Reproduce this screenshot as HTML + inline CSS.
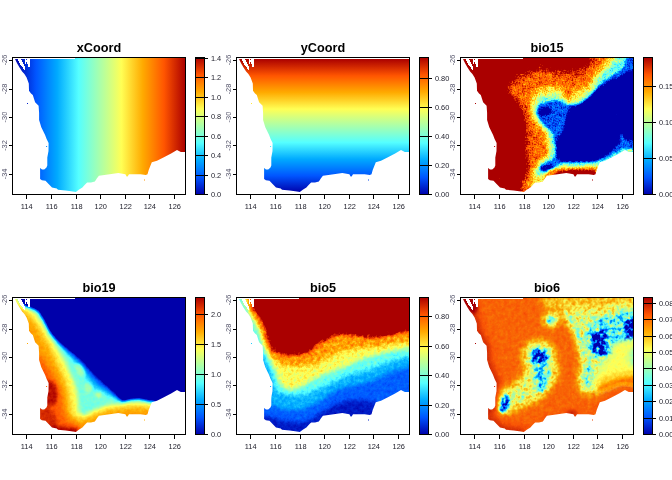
<!DOCTYPE html>
<html lang="en"><head><meta charset="utf-8"><title>GDM transformed predictors</title>
<style>
html,body{margin:0;padding:0;background:#fff;}
body{width:672px;height:480px;overflow:hidden;}
svg{display:block;font-family:"Liberation Sans",sans-serif;}
.ax{font-size:7.4px;fill:#1c1c28;}
.ay{fill:#54546a;}
.tt{font-size:12.7px;font-weight:bold;fill:#000;text-anchor:middle;}
.ln{stroke:#000;stroke-width:1;fill:none;shape-rendering:crispEdges;}
</style></head>
<body>
<svg width="672" height="480" viewBox="0 0 672 480">
<defs>
<clipPath id="land"><polygon shape-rendering="crispEdges" points="15,59 15,58 185.5,58 185.5,151.9 180.8,151.9 177,150.1 171.1,153.4 164.4,157.1 157,160.8 151.8,162.3 150.3,166 148.8,169.8 147.5,174.2 145.8,175 140.6,174.2 131.7,174.2 129,174.3 127.6,176.5 126.6,176.5 125.4,174.2 118.3,173 107.9,174.5 98.9,175.7 96.8,178.6 94.9,181.4 91,182.4 87.1,182.6 84.6,185 82.4,187.4 78.8,189.8 75.8,192.1 72.9,191.5 65.7,190.4 58,189.8 56.8,188.6 52,187.4 48.6,184 45.5,180.8 41.9,180.2 40.1,179 40.1,168.1 42,169.6 44.2,169.4 46.3,167.8 47.3,165.4 47.3,157.4 48.5,151 48.6,143 46.6,139 45.1,135 41.3,127.2 39.1,120 39.1,112.9 38.6,105.7 35.1,102.2 32.8,95 31,93.5 29,90.8 28.8,83.6 26.6,77.4 24.4,74 22.1,71.4 19.5,67.6 17.2,63.5"/></clipPath>
<linearGradient id="gv" x1="0" y1="1" x2="0" y2="0"><stop offset="0" stop-color="#0000aa"/><stop offset="0.0625" stop-color="#002ad4"/><stop offset="0.125" stop-color="#0055ff"/><stop offset="0.1875" stop-color="#0080ff"/><stop offset="0.25" stop-color="#00aaff"/><stop offset="0.3125" stop-color="#2ad4ff"/><stop offset="0.375" stop-color="#55ffff"/><stop offset="0.4375" stop-color="#80ffd4"/><stop offset="0.5" stop-color="#aaffaa"/><stop offset="0.5625" stop-color="#d4ff80"/><stop offset="0.625" stop-color="#ffff55"/><stop offset="0.6875" stop-color="#ffd42a"/><stop offset="0.75" stop-color="#ffaa00"/><stop offset="0.8125" stop-color="#ff8000"/><stop offset="0.875" stop-color="#ff5500"/><stop offset="0.9375" stop-color="#d42a00"/><stop offset="1" stop-color="#aa0000"/></linearGradient>
<linearGradient id="gh" x1="0" y1="0" x2="1" y2="0"><stop offset="0" stop-color="#0000aa"/><stop offset="0.0625" stop-color="#002ad4"/><stop offset="0.125" stop-color="#0055ff"/><stop offset="0.1875" stop-color="#0080ff"/><stop offset="0.25" stop-color="#00aaff"/><stop offset="0.3125" stop-color="#2ad4ff"/><stop offset="0.375" stop-color="#55ffff"/><stop offset="0.4375" stop-color="#80ffd4"/><stop offset="0.5" stop-color="#aaffaa"/><stop offset="0.5625" stop-color="#d4ff80"/><stop offset="0.625" stop-color="#ffff55"/><stop offset="0.6875" stop-color="#ffd42a"/><stop offset="0.75" stop-color="#ffaa00"/><stop offset="0.8125" stop-color="#ff8000"/><stop offset="0.875" stop-color="#ff5500"/><stop offset="0.9375" stop-color="#d42a00"/><stop offset="1" stop-color="#aa0000"/></linearGradient>
<filter id="b6" x="-20" y="30" width="240" height="200" filterUnits="userSpaceOnUse" color-interpolation-filters="sRGB"><feGaussianBlur stdDeviation="0.6"/></filter>
<filter id="b8" x="-20" y="30" width="240" height="200" filterUnits="userSpaceOnUse" color-interpolation-filters="sRGB"><feGaussianBlur stdDeviation="0.8"/></filter>
<filter id="b10" x="-20" y="30" width="240" height="200" filterUnits="userSpaceOnUse" color-interpolation-filters="sRGB"><feGaussianBlur stdDeviation="1"/></filter>
<filter id="b12" x="-20" y="30" width="240" height="200" filterUnits="userSpaceOnUse" color-interpolation-filters="sRGB"><feGaussianBlur stdDeviation="1.2"/></filter>
<filter id="b14" x="-20" y="30" width="240" height="200" filterUnits="userSpaceOnUse" color-interpolation-filters="sRGB"><feGaussianBlur stdDeviation="1.4"/></filter>
<filter id="b16" x="-20" y="30" width="240" height="200" filterUnits="userSpaceOnUse" color-interpolation-filters="sRGB"><feGaussianBlur stdDeviation="1.6"/></filter>
<filter id="b20" x="-20" y="30" width="240" height="200" filterUnits="userSpaceOnUse" color-interpolation-filters="sRGB"><feGaussianBlur stdDeviation="2"/></filter>
<filter id="b25" x="-20" y="30" width="240" height="200" filterUnits="userSpaceOnUse" color-interpolation-filters="sRGB"><feGaussianBlur stdDeviation="2.5"/></filter>
<filter id="b30" x="-20" y="30" width="240" height="200" filterUnits="userSpaceOnUse" color-interpolation-filters="sRGB"><feGaussianBlur stdDeviation="3"/></filter>
<filter id="b40" x="-20" y="30" width="240" height="200" filterUnits="userSpaceOnUse" color-interpolation-filters="sRGB"><feGaussianBlur stdDeviation="4"/></filter>
<filter id="v15" x="0" y="45" width="190" height="160" filterUnits="userSpaceOnUse" color-interpolation-filters="sRGB"><feGaussianBlur stdDeviation="1" result="b"/><feTurbulence type="fractalNoise" baseFrequency="0.7" numOctaves="1" seed="3" result="t0"/><feColorMatrix in="t0" type="matrix" values="1 0 0 0 0 1 0 0 0 0 1 0 0 0 0 0 0 0 0 1" result="g0"/><feComposite in="b" in2="g0" operator="arithmetic" k1="0" k2="1" k3="0.24" k4="-0.12" result="n0"/><feTurbulence type="fractalNoise" baseFrequency="0.22" numOctaves="2" seed="8" result="t1"/><feColorMatrix in="t1" type="matrix" values="1 0 0 0 0 1 0 0 0 0 1 0 0 0 0 0 0 0 0 1" result="g1"/><feComposite in="n0" in2="g1" operator="arithmetic" k1="0" k2="1" k3="0.1667" k4="-0.0833" result="n1"/><feComponentTransfer in="n1"><feFuncR type="table" tableValues="0 0 0 0 0 0.3333 0.6667 1 1 1 0.6667 0.6667 0.6667"/><feFuncG type="table" tableValues="0 0 0 0.3333 0.6667 1 1 1 0.6667 0.3333 0 0 0"/><feFuncB type="table" tableValues="0.6667 0.6667 0.6667 1 1 1 0.6667 0.3333 0 0 0 0 0"/></feComponentTransfer></filter>
<filter id="v19" x="0" y="45" width="190" height="160" filterUnits="userSpaceOnUse" color-interpolation-filters="sRGB"><feGaussianBlur stdDeviation="0.8" result="b"/><feTurbulence type="fractalNoise" baseFrequency="0.3" numOctaves="2" seed="5" result="t0"/><feColorMatrix in="t0" type="matrix" values="1 0 0 0 0 1 0 0 0 0 1 0 0 0 0 0 0 0 0 1" result="g0"/><feComposite in="b" in2="g0" operator="arithmetic" k1="0" k2="1" k3="0.0467" k4="-0.0233" result="n0"/><feComponentTransfer in="n0"><feFuncR type="table" tableValues="0 0 0 0 0 0.3333 0.6667 1 1 1 0.6667 0.6667 0.6667"/><feFuncG type="table" tableValues="0 0 0 0.3333 0.6667 1 1 1 0.6667 0.3333 0 0 0"/><feFuncB type="table" tableValues="0.6667 0.6667 0.6667 1 1 1 0.6667 0.3333 0 0 0 0 0"/></feComponentTransfer></filter>
<filter id="v5" x="0" y="45" width="190" height="160" filterUnits="userSpaceOnUse" color-interpolation-filters="sRGB"><feGaussianBlur stdDeviation="2" result="b"/><feTurbulence type="fractalNoise" baseFrequency="0.3" numOctaves="3" seed="2" result="t0"/><feColorMatrix in="t0" type="matrix" values="1 0 0 0 0 1 0 0 0 0 1 0 0 0 0 0 0 0 0 1" result="g0"/><feColorMatrix in="t0" type="matrix" values="-1 0 0 0 1 -1 0 0 0 1 -1 0 0 0 1 0 0 0 0 1" result="u0"/><feComposite in="b" in2="u0" operator="arithmetic" k1="0.25" k2="0.875" k3="-0" k4="0" result="n0"/><feComponentTransfer in="n0"><feFuncR type="table" tableValues="0 0 0 0 0 0.3333 0.6667 1 1 1 0.6667 0.6667 0.6667"/><feFuncG type="table" tableValues="0 0 0 0.3333 0.6667 1 1 1 0.6667 0.3333 0 0 0"/><feFuncB type="table" tableValues="0.6667 0.6667 0.6667 1 1 1 0.6667 0.3333 0 0 0 0 0"/></feComponentTransfer></filter>
<filter id="v6s" x="0" y="45" width="190" height="160" filterUnits="userSpaceOnUse" color-interpolation-filters="sRGB"><feGaussianBlur stdDeviation="0.6" result="b"/><feTurbulence type="fractalNoise" baseFrequency="0.3" numOctaves="2" seed="9" result="t0"/><feColorMatrix in="t0" type="matrix" values="1 0 0 0 0 1 0 0 0 0 1 0 0 0 0 0 0 0 0 1" result="g0"/><feComposite in="b" in2="g0" operator="arithmetic" k1="0" k2="1" k3="0.0533" k4="-0.0267" result="n0"/><feComponentTransfer in="n0"><feFuncR type="table" tableValues="0 0 0 0 0 0.3333 0.6667 1 1 1 0.6667 0.6667 0.6667"/><feFuncG type="table" tableValues="0 0 0 0.3333 0.6667 1 1 1 0.6667 0.3333 0 0 0"/><feFuncB type="table" tableValues="0.6667 0.6667 0.6667 1 1 1 0.6667 0.3333 0 0 0 0 0"/></feComponentTransfer></filter>
<filter id="v6" x="0" y="45" width="190" height="160" filterUnits="userSpaceOnUse" color-interpolation-filters="sRGB"><feGaussianBlur stdDeviation="0.8" result="b"/><feTurbulence type="fractalNoise" baseFrequency="0.25" numOctaves="3" seed="4" result="t0"/><feColorMatrix in="t0" type="matrix" values="1 0 0 0 0 1 0 0 0 0 1 0 0 0 0 0 0 0 0 1" result="g0"/><feColorMatrix in="t0" type="matrix" values="-1 0 0 0 1 -1 0 0 0 1 -1 0 0 0 1 0 0 0 0 1" result="u0"/><feComposite in="b" in2="u0" operator="arithmetic" k1="1.5" k2="0.25" k3="-1.155" k4="0.5775" result="n0"/><feComponentTransfer in="n0"><feFuncR type="table" tableValues="0 0 0 0 0 0.3333 0.6667 1 1 1 0.6667 0.6667 0.6667"/><feFuncG type="table" tableValues="0 0 0 0.3333 0.6667 1 1 1 0.6667 0.3333 0 0 0"/><feFuncB type="table" tableValues="0.6667 0.6667 0.6667 1 1 1 0.6667 0.3333 0 0 0 0 0"/></feComponentTransfer></filter>
</defs>
<rect width="672" height="480" fill="#fff"/>
<g transform="translate(0,0)">
<g clip-path="url(#land)">
<g>
<rect x="14.5" y="50" width="171" height="160" fill="url(#gh)"/>
<rect x="0" y="50" width="15" height="160" fill="#0000aa"/>
</g>
</g>
<polygon shape-rendering="crispEdges" points="17.4,58.5 21.1,58.5 22.9,63.5 25.5,67.2 25.1,69.3 24.2,70 22.5,67.4 19.5,63.5" fill="#fff"/>
<polygon shape-rendering="crispEdges" points="24.4,58.5 25.9,58.5 26.1,60.3 27.4,60.3 26.5,61.6 26.4,63.5 25.9,64.3 25.5,63.5 24.8,61.6" fill="#fff"/>
<polygon shape-rendering="crispEdges" points="27.4,58.5 30,58.5 30,66.9 28.2,66.9 27.5,64" fill="#fff"/>
<rect x="13" y="58" width="62" height="1" fill="#fff"/>
<rect x="27" y="103" width="1" height="1" fill="#0022cc"/>
<rect x="46.1" y="146" width="1" height="1" fill="#0088ff"/>
<rect x="144" y="179.5" width="1" height="1" fill="#ff9600"/>
<rect class="ln" x="12.5" y="57.5" width="173" height="137"/>
<path class="ln" d="M26.5,194.5v4.5M51.5,194.5v4.5M76.5,194.5v4.5M100.5,194.5v4.5M125.5,194.5v4.5M149.5,194.5v4.5M174.5,194.5v4.5M9,60.5h3.5M9,89.5h3.5M9,117.5h3.5M9,145.5h3.5M9,174.5h3.5"/>
<text class="ax" x="26.7" y="209.3" text-anchor="middle">114</text>
<text class="ax" x="51.7" y="209.3" text-anchor="middle">116</text>
<text class="ax" x="76.7" y="209.3" text-anchor="middle">118</text>
<text class="ax" x="100.7" y="209.3" text-anchor="middle">120</text>
<text class="ax" x="125.7" y="209.3" text-anchor="middle">122</text>
<text class="ax" x="149.8" y="209.3" text-anchor="middle">124</text>
<text class="ax" x="174.7" y="209.3" text-anchor="middle">126</text>
<text class="ax ay" transform="translate(7.3,60) rotate(-90)" text-anchor="middle">-26</text>
<text class="ax ay" transform="translate(7.3,89) rotate(-90)" text-anchor="middle">-28</text>
<text class="ax ay" transform="translate(7.3,117.1) rotate(-90)" text-anchor="middle">-30</text>
<text class="ax ay" transform="translate(7.3,145.5) rotate(-90)" text-anchor="middle">-32</text>
<text class="ax ay" transform="translate(7.3,173.9) rotate(-90)" text-anchor="middle">-34</text>
<text class="tt" transform="translate(99,51.9) scale(1,1.07)">xCoord</text>
<rect x="195.5" y="57.5" width="9" height="137" fill="url(#gv)"/>
<rect class="ln" x="195.5" y="57.5" width="9" height="137"/>
<text class="ax" x="210.9" y="197.4">0.0</text>
<text class="ax" x="210.9" y="178.4">0.2</text>
<text class="ax" x="210.9" y="158.4">0.4</text>
<text class="ax" x="210.9" y="139.4">0.6</text>
<text class="ax" x="210.9" y="119.4">0.8</text>
<text class="ax" x="210.9" y="100.4">1.0</text>
<text class="ax" x="210.9" y="80.4">1.2</text>
<text class="ax" x="210.9" y="61.4">1.4</text>
<path class="ln" d="M195.5,194.5h12.5M195.5,175.5h12.5M195.5,155.5h12.5M195.5,136.5h12.5M195.5,116.5h12.5M195.5,97.5h12.5M195.5,77.5h12.5M195.5,58.5h12.5"/>
</g>
<g transform="translate(224,0)">
<g clip-path="url(#land)">
<g>
<rect x="0" y="59" width="200" height="133.5" fill="url(#gv)"/>
</g>
</g>
<polygon shape-rendering="crispEdges" points="17.4,58.5 21.1,58.5 22.9,63.5 25.5,67.2 25.1,69.3 24.2,70 22.5,67.4 19.5,63.5" fill="#fff"/>
<polygon shape-rendering="crispEdges" points="24.4,58.5 25.9,58.5 26.1,60.3 27.4,60.3 26.5,61.6 26.4,63.5 25.9,64.3 25.5,63.5 24.8,61.6" fill="#fff"/>
<polygon shape-rendering="crispEdges" points="27.4,58.5 30,58.5 30,66.9 28.2,66.9 27.5,64" fill="#fff"/>
<rect x="13" y="58" width="62" height="1" fill="#fff"/>
<rect x="27" y="103" width="1" height="1" fill="#ffe73d"/>
<rect x="46.1" y="146" width="1" height="1" fill="#3de7ff"/>
<rect x="144" y="179.5" width="1" height="1" fill="#0044ee"/>
<rect class="ln" x="12.5" y="57.5" width="173" height="137"/>
<path class="ln" d="M26.5,194.5v4.5M51.5,194.5v4.5M76.5,194.5v4.5M100.5,194.5v4.5M125.5,194.5v4.5M149.5,194.5v4.5M174.5,194.5v4.5M9,60.5h3.5M9,89.5h3.5M9,117.5h3.5M9,145.5h3.5M9,174.5h3.5"/>
<text class="ax" x="26.7" y="209.3" text-anchor="middle">114</text>
<text class="ax" x="51.7" y="209.3" text-anchor="middle">116</text>
<text class="ax" x="76.7" y="209.3" text-anchor="middle">118</text>
<text class="ax" x="100.7" y="209.3" text-anchor="middle">120</text>
<text class="ax" x="125.7" y="209.3" text-anchor="middle">122</text>
<text class="ax" x="149.8" y="209.3" text-anchor="middle">124</text>
<text class="ax" x="174.7" y="209.3" text-anchor="middle">126</text>
<text class="ax ay" transform="translate(7.3,60) rotate(-90)" text-anchor="middle">-26</text>
<text class="ax ay" transform="translate(7.3,89) rotate(-90)" text-anchor="middle">-28</text>
<text class="ax ay" transform="translate(7.3,117.1) rotate(-90)" text-anchor="middle">-30</text>
<text class="ax ay" transform="translate(7.3,145.5) rotate(-90)" text-anchor="middle">-32</text>
<text class="ax ay" transform="translate(7.3,173.9) rotate(-90)" text-anchor="middle">-34</text>
<text class="tt" transform="translate(99,51.9) scale(1,1.07)">yCoord</text>
<rect x="195.5" y="57.5" width="9" height="137" fill="url(#gv)"/>
<rect class="ln" x="195.5" y="57.5" width="9" height="137"/>
<text class="ax" x="210.9" y="197.4">0.00</text>
<text class="ax" x="210.9" y="168.4">0.20</text>
<text class="ax" x="210.9" y="139.4">0.40</text>
<text class="ax" x="210.9" y="110.4">0.60</text>
<text class="ax" x="210.9" y="81.4">0.80</text>
<path class="ln" d="M195.5,194.5h12.5M195.5,165.5h12.5M195.5,136.5h12.5M195.5,107.5h12.5M195.5,78.5h12.5"/>
</g>
<g transform="translate(448,0)">
<g clip-path="url(#land)">
<g filter="url(#v15)">
<polygon points="-10,40 200,40 200,210 -10,210" fill="#eeeeee"/>
<g filter="url(#b20)"><polygon points="142,50 200,50 200,210 70,210 73,183 76.7,176.7 78,166.7 76.7,153 76,146 77.5,134 76,121 72.5,109 64,97.5 58,92 57.5,86.7 65,78 80,70 90,66 100,68 115,70 130,69 140,64" fill="#cacaca"/><polygon points="150,50 200,50 200,210 77,210 79,180 82,167 81,153 81,140 81,130 80,121 77,110 70,100 64,93 64,87 71,81 84,76 95,73 115,76 132,75 145,66" fill="#bbbbbb"/><polygon points="165,50 200,50 200,210 82,210 83,177 85,170 90,162 99,153 98.8,143.8 96,133.8 88.8,125 83,115 82.5,102.5 85,92 92,88 103,86 113,86 117,94 121,102 124,95 127,89 132,88 140,85 145,75 155,65" fill="#9b9b9b"/><polygon points="175,50 200,50 200,210 152,210 152,163 148,164.5 135,165.5 120,166 105,166.5 98,172 93,177 89,175 88,170 93,163 103,156.7 103,150 102.5,142.5 100,131 92.5,123.8 86,115 87,105 91,97.5 100,96 110,95 116,98.8 120,104.5 125,104 132.5,98.8 144,91 148.7,80 160,68" fill="#6e6e6e"/><ellipse cx="77" cy="183" rx="3.5" ry="3" fill="#afafaf"/></g>
<g filter="url(#b6)"><polygon points="182,50 200,50 200,150.5 185,150.5 180.5,150 177,148.3 171,151.6 164.4,155.3 157,159 152,160.6 148.7,162 132,162.7 115,162.5 109,165 106,170 100,172.5 94,171.5 91.5,168 94,164.5 101,161.5 107,158 109,153 107,142 105,133 97,126 91,118.5 88.5,111 91,105 97.5,102.5 110,100.5 117.5,104.5 130,104.5 137.5,99.5 145,95.5 150,86 162,77 175,69" fill="#3f3f3f"/><polygon points="200,64 185.5,69 175,75.5 162,81 148.7,89.5 138.7,99.5 130,105.5 124,107 120,111 117.5,122.5 115,132.5 109,140 108,150 108.7,158 115,161 132,161.7 148.7,160.5 155,157 162,151.5 168,146 172,141 170.5,136.5 172.5,132.5 176,137 181,140 185,140.5 200,141" fill="#111111"/><ellipse cx="96.5" cy="111.5" rx="6.5" ry="4.5" fill="#1d1d1d"/><ellipse cx="99" cy="168.3" rx="6" ry="3.2" fill="#1d1d1d"/><polyline points="153,161.5 157,160 164.4,156.3 171.1,152.6 177,149.3 180.8,151 185.5,151" fill="none" stroke="#696969" stroke-width="3.6" stroke-linecap="round" stroke-linejoin="round"/><ellipse cx="181.5" cy="150.3" rx="2.5" ry="1.6" fill="#9b9b9b"/><polygon points="97,175 101,169.5 110,168 130,167.5 147,167 150,166 151,180 95,182" fill="#afafaf"/><polygon points="106,176 110,171.5 125,170.5 140,170.5 147,170 149,180 105,180" fill="#eeeeee"/></g>
</g>
</g>
<polygon shape-rendering="crispEdges" points="17.4,58.5 21.1,58.5 22.9,63.5 25.5,67.2 25.1,69.3 24.2,70 22.5,67.4 19.5,63.5" fill="#fff"/>
<polygon shape-rendering="crispEdges" points="24.4,58.5 25.9,58.5 26.1,60.3 27.4,60.3 26.5,61.6 26.4,63.5 25.9,64.3 25.5,63.5 24.8,61.6" fill="#fff"/>
<polygon shape-rendering="crispEdges" points="27.4,58.5 30,58.5 30,66.9 28.2,66.9 27.5,64" fill="#fff"/>
<rect x="13" y="58" width="62" height="1" fill="#fff"/>
<rect x="27" y="103" width="1" height="1" fill="#aa0000"/>
<rect x="46.1" y="146" width="1" height="1" fill="#aa0000"/>
<rect x="144" y="179.5" width="1" height="1" fill="#aa0000"/>
<rect class="ln" x="12.5" y="57.5" width="173" height="137"/>
<path class="ln" d="M26.5,194.5v4.5M51.5,194.5v4.5M76.5,194.5v4.5M100.5,194.5v4.5M125.5,194.5v4.5M149.5,194.5v4.5M174.5,194.5v4.5M9,60.5h3.5M9,89.5h3.5M9,117.5h3.5M9,145.5h3.5M9,174.5h3.5"/>
<text class="ax" x="26.7" y="209.3" text-anchor="middle">114</text>
<text class="ax" x="51.7" y="209.3" text-anchor="middle">116</text>
<text class="ax" x="76.7" y="209.3" text-anchor="middle">118</text>
<text class="ax" x="100.7" y="209.3" text-anchor="middle">120</text>
<text class="ax" x="125.7" y="209.3" text-anchor="middle">122</text>
<text class="ax" x="149.8" y="209.3" text-anchor="middle">124</text>
<text class="ax" x="174.7" y="209.3" text-anchor="middle">126</text>
<text class="ax ay" transform="translate(7.3,60) rotate(-90)" text-anchor="middle">-26</text>
<text class="ax ay" transform="translate(7.3,89) rotate(-90)" text-anchor="middle">-28</text>
<text class="ax ay" transform="translate(7.3,117.1) rotate(-90)" text-anchor="middle">-30</text>
<text class="ax ay" transform="translate(7.3,145.5) rotate(-90)" text-anchor="middle">-32</text>
<text class="ax ay" transform="translate(7.3,173.9) rotate(-90)" text-anchor="middle">-34</text>
<text class="tt" transform="translate(99,51.9) scale(1,1.07)">bio15</text>
<rect x="195.5" y="57.5" width="9" height="137" fill="url(#gv)"/>
<rect class="ln" x="195.5" y="57.5" width="9" height="137"/>
<text class="ax" x="210.9" y="197.4">0.00</text>
<text class="ax" x="210.9" y="161.4">0.05</text>
<text class="ax" x="210.9" y="125.4">0.10</text>
<text class="ax" x="210.9" y="89.4">0.15</text>
<path class="ln" d="M195.5,194.5h12.5M195.5,158.5h12.5M195.5,122.5h12.5M195.5,86.5h12.5"/>
</g>
<g transform="translate(0,240)">
<g clip-path="url(#land)">
<g filter="url(#v19)">
<polygon points="-10,40 200,40 200,210 -10,210" fill="#111111"/>
<g filter="url(#b12)"><polygon points="17.5,49.4 20.5,57.3 23.8,63.1 26.1,66 30.4,65.5 39.8,70.1 45.2,79.3 51.3,91.6 58.6,99.3 69.8,108.8 82.3,118.8 92.4,130.2 101.1,138.8 109.8,146.3 118.6,154.9 123.4,160.5 129.7,157.9 138.8,156.9 150.3,159.4 156.1,159.9 156,210 -10,210 -10,50" fill="#2a2a2a"/><polygon points="15.7,50.1 18.7,58.1 22.3,64.2 25.4,67.8 29.9,67.3 38.5,71.5 43.5,80.1 49.8,92.7 57.3,100.7 68.6,110.2 81,120.2 91,131.5 99.8,140.2 108.5,147.7 117.3,156.2 122.9,162.3 130.1,159.8 138.7,158.8 149.9,161.3 156,161.8 156,210 -10,210 -10,50" fill="#3f3f3f"/><polygon points="15.5,50.2 18.6,58.2 22.2,64.2 25.4,67.7 29.8,67.5 38.3,71.7 43.3,80.2 49.6,92.8 57,101 67.9,111.1 79.7,121.7 89.1,133.2 97.5,142.7 107,149.4 116.6,156.9 122.9,162.4 130.1,160 138.7,159.1 149.9,161.5 156,162.1 156,210 -10,210 -10,50" fill="#525252"/><polygon points="15,50.4 18.1,58.4 21.8,64.5 25.3,68 29.7,68.1 37.9,72.2 42.8,80.5 49.2,93 56.5,101.6 67,112.1 78.1,123.3 87,135.2 95,145.3 105.3,151.2 115.7,157.8 122.8,162.7 130.2,160.6 138.6,159.8 149.8,162.1 155.9,162.6 156,210 -10,210 -10,50" fill="#616161"/><polygon points="14.5,50.6 17.6,58.6 21.4,64.7 25.2,68.3 29.5,68.7 37.4,72.7 42.3,80.8 48.8,93.3 56,102.2 66,113.3 76.3,125.2 84.6,137.5 92.2,148.4 103.4,153.4 114.6,158.8 122.7,163.2 130.4,161.2 138.5,160.5 149.7,162.7 155.9,163.2 156,210 -10,210 -10,50" fill="#727272"/><ellipse cx="80" cy="130" rx="3.5" ry="7" fill="#808080" transform="rotate(-30 80 130)"/><ellipse cx="88" cy="148" rx="4" ry="5" fill="#808080"/></g>
<g filter="url(#b14)"><polygon points="14.1,49.2 17,57.1 20.3,62.7 23.8,66.7 27.9,68 36.5,72.1 42.9,81.4 49.4,93.9 54.8,101.8 60.4,110.9 66,120 70,130.1 75.6,141.7 78.2,152.1 79.2,159.8 80,171.1 83.8,174.3 96.1,168 108.6,163.4 121.8,162.8 129.8,161.3 140.2,160.8 150.3,162.8 156.2,163.3 156,210 -10,210 -10,50" fill="#838383"/><ellipse cx="98.7" cy="155" rx="2.6" ry="2.6" fill="#909090"/><polygon points="12,50 15,58 18.5,64 22.5,68.5 27,70 35,73.8 41,82.5 47.5,95 53,103 58.5,112 64,121 68,131 73.5,142.5 76,152.5 77,160 78,172 84,176.5 97,170 109,165.6 122,165 130,163.5 140,163 150,165 156,165.5 156,210 -10,210 -10,50" fill="#969696"/></g>
<g filter="url(#b25)"><polygon points="9.3,49.3 13.3,57.3 17.2,63.1 21,67.9 26,70.9 31.2,76.6 38.8,86.7 45,98 51.3,108.3 57.9,123.4 64.4,136.9 68.5,149.6 70.5,161.8 71.3,174.2 81,179.5 93.4,174.1 99.5,171.6 109.7,168.5 121.8,167 135,165.5 150.1,167 156.1,167.5 156,210 -10,210 -10,50" fill="#a2a2a2"/><polygon points="7.1,50.4 11.1,58.5 15.2,64.6 19.3,69.7 24.4,72.8 29.2,78.1 36.7,88 42.9,99.3 49.1,109.5 55.6,124.4 62.1,137.9 66,150.2 68,162.1 69.2,175.5 81,182 94.4,176.4 100.3,173.9 110.2,171 122.1,169.5 135,168 149.9,169.5 155.9,170 156,210 -10,210 -10,50" fill="#acacac"/><polygon points="41.8,114.8 47,121 52.8,129.4 58.5,139.9 63.4,151.8 65.4,166.9 68.9,177.9 79.4,183.8 89.9,196.9 20,210 20,106" fill="#b4b4b4"/><polygon points="38.4,117.7 43.4,123.7 48.9,131.7 54.5,141.8 59,152.9 61,167.9 65.4,180.7 76.3,187.1 86.4,199.7 20,210 20,118" fill="#bebebe"/></g>
<g filter="url(#b16)"><polygon points="44,140 52,141 56.5,146 58,156 56,163 52,166 44,166" fill="#d1d1d1"/><polygon points="38,166 50,168 56,176 58,186 50,186 38,182" fill="#cacaca"/><polygon points="48,184.5 60,186.5 70,187.5 77,187 80,200 46,200" fill="#d4d4d4"/></g>
</g>
</g>
<polygon shape-rendering="crispEdges" points="17.4,58.5 21.1,58.5 22.9,63.5 25.5,67.2 25.1,69.3 24.2,70 22.5,67.4 19.5,63.5" fill="#fff"/>
<polygon shape-rendering="crispEdges" points="24.4,58.5 25.9,58.5 26.1,60.3 27.4,60.3 26.5,61.6 26.4,63.5 25.9,64.3 25.5,63.5 24.8,61.6" fill="#fff"/>
<polygon shape-rendering="crispEdges" points="27.4,58.5 30,58.5 30,66.9 28.2,66.9 27.5,64" fill="#fff"/>
<rect x="13" y="58" width="62" height="1" fill="#fff"/>
<rect x="27" y="103" width="1" height="1" fill="#ffaa00"/>
<rect x="46.1" y="146" width="1" height="1" fill="#ff5f00"/>
<rect x="144" y="179.5" width="1" height="1" fill="#ffb107"/>
<rect class="ln" x="12.5" y="57.5" width="173" height="137"/>
<path class="ln" d="M26.5,194.5v4.5M51.5,194.5v4.5M76.5,194.5v4.5M100.5,194.5v4.5M125.5,194.5v4.5M149.5,194.5v4.5M174.5,194.5v4.5M9,60.5h3.5M9,89.5h3.5M9,117.5h3.5M9,145.5h3.5M9,174.5h3.5"/>
<text class="ax" x="26.7" y="209.3" text-anchor="middle">114</text>
<text class="ax" x="51.7" y="209.3" text-anchor="middle">116</text>
<text class="ax" x="76.7" y="209.3" text-anchor="middle">118</text>
<text class="ax" x="100.7" y="209.3" text-anchor="middle">120</text>
<text class="ax" x="125.7" y="209.3" text-anchor="middle">122</text>
<text class="ax" x="149.8" y="209.3" text-anchor="middle">124</text>
<text class="ax" x="174.7" y="209.3" text-anchor="middle">126</text>
<text class="ax ay" transform="translate(7.3,60) rotate(-90)" text-anchor="middle">-26</text>
<text class="ax ay" transform="translate(7.3,89) rotate(-90)" text-anchor="middle">-28</text>
<text class="ax ay" transform="translate(7.3,117.1) rotate(-90)" text-anchor="middle">-30</text>
<text class="ax ay" transform="translate(7.3,145.5) rotate(-90)" text-anchor="middle">-32</text>
<text class="ax ay" transform="translate(7.3,173.9) rotate(-90)" text-anchor="middle">-34</text>
<text class="tt" transform="translate(99,51.9) scale(1,1.07)">bio19</text>
<rect x="195.5" y="57.5" width="9" height="137" fill="url(#gv)"/>
<rect class="ln" x="195.5" y="57.5" width="9" height="137"/>
<text class="ax" x="210.9" y="197.4">0.0</text>
<text class="ax" x="210.9" y="167.4">0.5</text>
<text class="ax" x="210.9" y="137.4">1.0</text>
<text class="ax" x="210.9" y="107.4">1.5</text>
<text class="ax" x="210.9" y="77.4">2.0</text>
<path class="ln" d="M195.5,194.5h12.5M195.5,164.5h12.5M195.5,134.5h12.5M195.5,104.5h12.5M195.5,74.5h12.5"/>
</g>
<g transform="translate(224,240)">
<g clip-path="url(#land)">
<g filter="url(#v5)">
<polygon points="-10,40 200,40 200,210 -10,210" fill="#eeeeee"/>
<polygon points="-10,50 28,50 28.5,64 30,69 36.7,76.7 42.5,88 45,100 50,110 60,113 76.7,113 84,110.5 92,103 102.5,98 112,93.5 122,93 132,94.5 148.7,96.5 165,94 178.7,90.5 200,89 200,210 -10,210" fill="#c0c0c0"/>
<polygon points="-10,50 24.5,50 25.5,60 27,68 34,78 40,89 42.5,101 47,112 58,116.5 76.7,117 86,114 94,107 104,101 113,96 122,95.5 132,97 148.7,99 165,96.5 178.7,93 200,92 200,210 -10,210" fill="#acacac"/>
<polygon points="-10,50 19.5,50 22,60 25,69 31,80 37,90 40,102 45,114 52,122 60,126 75,127 88,125.5 95,123 108.7,115 123.7,110 140,108 157,106.7 173.7,103 200,101.7 200,210 -10,210" fill="#949494"/>
<polygon points="-10,50 16,50 19,60 23,70 28,80 33,88 37,100 41,110 46,120 51,130 56.7,145 65,150 76.7,147 88,140.5 100,134.5 115,129 128,123.5 138.7,119 157,113.7 173.7,110 200,107 200,210 -10,210" fill="#6e6e6e"/>
<polygon points="-10,110 38,112 43,122 48,135 51,146 53,152 65,155 80,155 96.7,148 112,141 125,134.5 140,131 150,128 160,123.5 172,119.5 200,113 200,210 -10,210" fill="#575757"/>
<polygon points="-10,153 40,155 46,163 53,167 60,169.5 76.7,170 93,163.5 105,155 115,149 130,145.5 148,141 160,135.5 172,130 200,124 200,210 -10,210" fill="#424242"/>
<polygon points="-10,174 43,176 60,181 76.7,182.5 88,179 98,172 112,164 125,160 140,160 152,162 152,210 -10,210" fill="#313131"/>
</g>
</g>
<polygon shape-rendering="crispEdges" points="17.4,58.5 21.1,58.5 22.9,63.5 25.5,67.2 25.1,69.3 24.2,70 22.5,67.4 19.5,63.5" fill="#fff"/>
<polygon shape-rendering="crispEdges" points="24.4,58.5 25.9,58.5 26.1,60.3 27.4,60.3 26.5,61.6 26.4,63.5 25.9,64.3 25.5,63.5 24.8,61.6" fill="#fff"/>
<polygon shape-rendering="crispEdges" points="27.4,58.5 30,58.5 30,66.9 28.2,66.9 27.5,64" fill="#fff"/>
<rect x="13" y="58" width="62" height="1" fill="#fff"/>
<rect x="27" y="103" width="1" height="1" fill="#22ccff"/>
<rect x="46.1" y="146" width="1" height="1" fill="#00aaff"/>
<rect x="144" y="179.5" width="1" height="1" fill="#0022cc"/>
<rect class="ln" x="12.5" y="57.5" width="173" height="137"/>
<path class="ln" d="M26.5,194.5v4.5M51.5,194.5v4.5M76.5,194.5v4.5M100.5,194.5v4.5M125.5,194.5v4.5M149.5,194.5v4.5M174.5,194.5v4.5M9,60.5h3.5M9,89.5h3.5M9,117.5h3.5M9,145.5h3.5M9,174.5h3.5"/>
<text class="ax" x="26.7" y="209.3" text-anchor="middle">114</text>
<text class="ax" x="51.7" y="209.3" text-anchor="middle">116</text>
<text class="ax" x="76.7" y="209.3" text-anchor="middle">118</text>
<text class="ax" x="100.7" y="209.3" text-anchor="middle">120</text>
<text class="ax" x="125.7" y="209.3" text-anchor="middle">122</text>
<text class="ax" x="149.8" y="209.3" text-anchor="middle">124</text>
<text class="ax" x="174.7" y="209.3" text-anchor="middle">126</text>
<text class="ax ay" transform="translate(7.3,60) rotate(-90)" text-anchor="middle">-26</text>
<text class="ax ay" transform="translate(7.3,89) rotate(-90)" text-anchor="middle">-28</text>
<text class="ax ay" transform="translate(7.3,117.1) rotate(-90)" text-anchor="middle">-30</text>
<text class="ax ay" transform="translate(7.3,145.5) rotate(-90)" text-anchor="middle">-32</text>
<text class="ax ay" transform="translate(7.3,173.9) rotate(-90)" text-anchor="middle">-34</text>
<text class="tt" transform="translate(99,51.9) scale(1,1.07)">bio5</text>
<rect x="195.5" y="57.5" width="9" height="137" fill="url(#gv)"/>
<rect class="ln" x="195.5" y="57.5" width="9" height="137"/>
<text class="ax" x="210.9" y="197.4">0.00</text>
<text class="ax" x="210.9" y="168.4">0.20</text>
<text class="ax" x="210.9" y="138.4">0.40</text>
<text class="ax" x="210.9" y="109.4">0.60</text>
<text class="ax" x="210.9" y="79.4">0.80</text>
<path class="ln" d="M195.5,194.5h12.5M195.5,165.5h12.5M195.5,135.5h12.5M195.5,106.5h12.5M195.5,76.5h12.5"/>
</g>
<g transform="translate(448,240)">
<g clip-path="url(#land)">
<g filter="url(#v6)">
<polygon points="-10,40 200,40 200,210 -10,210" fill="#bbbbbb"/>
<g filter="url(#b40)"><polyline points="15,59 17.2,63.5 19.5,67.6 22.1,71.4 24.4,74 26.6,77.4 28.8,83.6 29,90.8 32.8,95 35.1,102.2 38.6,105.7 39.1,112.9 39.1,120 41.3,127.2 45.1,135 48.6,143 48.5,151 47.3,157.4 47.3,165.4 44.2,169.4 40.1,168.1 40.1,179 45.5,180.8 52,187.4 58,189.8 65.7,190.4 75.8,192.1" fill="none" stroke="#c4c4c4" stroke-width="12" stroke-linecap="round" stroke-linejoin="round"/></g>
<g filter="url(#b20)"><polyline points="15,59 17.2,63.5 19.5,67.6 22.1,71.4 24.4,74 26.6,77.4 28.8,83.6 29,90.8 32.8,95 35.1,102.2 38.6,105.7 39.1,112.9 39.1,120 41.3,127.2 45.1,135 48.6,143 48.5,151 47.3,157.4 47.3,165.4 44.2,169.4 40.1,168.1 40.1,179 45.5,180.8 52,187.4 58,189.8 65.7,190.4 75.8,192.1" fill="none" stroke="#cccccc" stroke-width="4" stroke-linecap="round" stroke-linejoin="round"/><polyline points="75.8,192.1 82.4,187.4 87.1,182.6 94.9,181.4 98.9,175.7 107.9,174.5 118.3,173 131.7,174.2 145.8,175 148.8,169.8 151.8,162.3 164.4,157.1 177,150.1 185.5,151.9" fill="none" stroke="#c0c0c0" stroke-width="3" stroke-linecap="round" stroke-linejoin="round"/><ellipse cx="124" cy="173" rx="6" ry="2.5" fill="#d3d3d3"/><polygon points="10,50 27,50 27,62 30,70 24,72" fill="#e6e6e6"/></g>
<g filter="url(#b30)"><polygon points="92,50 200,50 200,76 118,76 104,70 94,64" fill="#a3a3a3"/><polygon points="113,71 140,69 157,70 168.7,64 200,62 200,138 172,140 160,145 148.7,154 133,153 130,140 132.5,125 132.5,118 129,105 125,91.7 118.7,83" fill="#8d8d8d"/><polygon points="148.7,154 160,146 172,141 200,139 200,132 172,133 158,138 148,146" fill="#a7a7a7"/><ellipse cx="103" cy="80" rx="8" ry="8" fill="#949494"/><ellipse cx="91" cy="116" rx="17" ry="16" fill="#909090"/><polygon points="78,120 75,136.7 62,146 52,151 52,171 58,174 66.7,171 76.7,166 90,161 99,152 108,141.7 111,130 108,120" fill="#949494"/></g>
<g filter="url(#b16)"><polygon points="146,80 160,76 175,72 200,70 200,100 176,101 164,116 148,118 139,108 138,95" fill="#6b6b6b"/><ellipse cx="187" cy="117" rx="6" ry="8" fill="#727272"/><ellipse cx="139.5" cy="136" rx="4" ry="12" fill="#727272"/><ellipse cx="176" cy="112" rx="10" ry="9" fill="#808080"/><ellipse cx="103.5" cy="80" rx="4.5" ry="3.2" fill="#6e6e6e"/><ellipse cx="91.5" cy="118" rx="10.5" ry="10.5" fill="#6e6e6e"/><polygon points="85,126 99,124 103,135 98,148 92,153 87,149 85,138" fill="#727272"/><polyline points="74,149 75.5,159" fill="none" stroke="#727272" stroke-width="2.5" stroke-linecap="round" stroke-linejoin="round"/><polyline points="121,76 126,86 131,95 134,106 137,118" fill="none" stroke="#777777" stroke-width="3" stroke-linecap="round" stroke-linejoin="round"/><ellipse cx="57" cy="163" rx="5" ry="10.5" fill="#6e6e6e" transform="rotate(20 57 163)"/></g>
<g filter="url(#b10)"><ellipse cx="151" cy="96" rx="9" ry="4.5" fill="#2a2a2a" transform="rotate(-15 151 96)"/><ellipse cx="152" cy="107" rx="8" ry="7.5" fill="#2a2a2a"/><ellipse cx="183.5" cy="89" rx="7" ry="11" fill="#2a2a2a"/><ellipse cx="101" cy="80.8" rx="1.5" ry="1.5" fill="#505050"/><ellipse cx="91.5" cy="116.5" rx="7" ry="6" fill="#2a2a2a" transform="rotate(35 91.5 116.5)"/><polyline points="91,128 94,150" fill="none" stroke="#444444" stroke-width="2.5" stroke-linecap="round" stroke-linejoin="round"/><ellipse cx="57" cy="164" rx="3.2" ry="8.5" fill="#2e2e2e" transform="rotate(20 57 164)"/></g>
</g>
<g filter="url(#v6s)">
<g filter="url(#b20)"><polygon points="164,105 173,101 190,99 190,143 172,142 160,147 151,150 148,140 150,130 157,122 163,115" fill="#949494"/></g>
<g filter="url(#b30)"><ellipse cx="190" cy="117" rx="9" ry="11" fill="#7a7a7a"/><polygon points="148,140 158,137 172,133 190,131 190,138 172,140 160,145 151,150" fill="#a5a5a5"/></g>
<g filter="url(#b16)"><polygon points="149,147 160,142.5 172,138 190,136 190,146 172,144 160,149 151,152" fill="#b6b6b6"/></g>
</g>
</g>
<polygon shape-rendering="crispEdges" points="17.4,58.5 21.1,58.5 22.9,63.5 25.5,67.2 25.1,69.3 24.2,70 22.5,67.4 19.5,63.5" fill="#fff"/>
<polygon shape-rendering="crispEdges" points="24.4,58.5 25.9,58.5 26.1,60.3 27.4,60.3 26.5,61.6 26.4,63.5 25.9,64.3 25.5,63.5 24.8,61.6" fill="#fff"/>
<polygon shape-rendering="crispEdges" points="27.4,58.5 30,58.5 30,66.9 28.2,66.9 27.5,64" fill="#fff"/>
<rect x="13" y="58" width="62" height="1" fill="#fff"/>
<rect x="27" y="103" width="1" height="1" fill="#aa0000"/>
<rect x="46.1" y="146" width="1" height="1" fill="#cc2200"/>
<rect x="144" y="179.5" width="1" height="1" fill="#ee4400"/>
<rect class="ln" x="12.5" y="57.5" width="173" height="137"/>
<path class="ln" d="M26.5,194.5v4.5M51.5,194.5v4.5M76.5,194.5v4.5M100.5,194.5v4.5M125.5,194.5v4.5M149.5,194.5v4.5M174.5,194.5v4.5M9,60.5h3.5M9,89.5h3.5M9,117.5h3.5M9,145.5h3.5M9,174.5h3.5"/>
<text class="ax" x="26.7" y="209.3" text-anchor="middle">114</text>
<text class="ax" x="51.7" y="209.3" text-anchor="middle">116</text>
<text class="ax" x="76.7" y="209.3" text-anchor="middle">118</text>
<text class="ax" x="100.7" y="209.3" text-anchor="middle">120</text>
<text class="ax" x="125.7" y="209.3" text-anchor="middle">122</text>
<text class="ax" x="149.8" y="209.3" text-anchor="middle">124</text>
<text class="ax" x="174.7" y="209.3" text-anchor="middle">126</text>
<text class="ax ay" transform="translate(7.3,60) rotate(-90)" text-anchor="middle">-26</text>
<text class="ax ay" transform="translate(7.3,89) rotate(-90)" text-anchor="middle">-28</text>
<text class="ax ay" transform="translate(7.3,117.1) rotate(-90)" text-anchor="middle">-30</text>
<text class="ax ay" transform="translate(7.3,145.5) rotate(-90)" text-anchor="middle">-32</text>
<text class="ax ay" transform="translate(7.3,173.9) rotate(-90)" text-anchor="middle">-34</text>
<text class="tt" transform="translate(99,51.9) scale(1,1.07)">bio6</text>
<rect x="195.5" y="57.5" width="9" height="137" fill="url(#gv)"/>
<rect class="ln" x="195.5" y="57.5" width="9" height="137"/>
<text class="ax" x="210.9" y="197.4">0.00</text>
<text class="ax" x="210.9" y="181.4">0.01</text>
<text class="ax" x="210.9" y="164.4">0.02</text>
<text class="ax" x="210.9" y="148.4">0.03</text>
<text class="ax" x="210.9" y="131.4">0.04</text>
<text class="ax" x="210.9" y="115.4">0.05</text>
<text class="ax" x="210.9" y="99.4">0.06</text>
<text class="ax" x="210.9" y="82.4">0.07</text>
<text class="ax" x="210.9" y="66.4">0.08</text>
<path class="ln" d="M195.5,194.5h12.5M195.5,178.5h12.5M195.5,161.5h12.5M195.5,145.5h12.5M195.5,128.5h12.5M195.5,112.5h12.5M195.5,96.5h12.5M195.5,79.5h12.5M195.5,63.5h12.5"/>
</g>
</svg>
</body></html>
